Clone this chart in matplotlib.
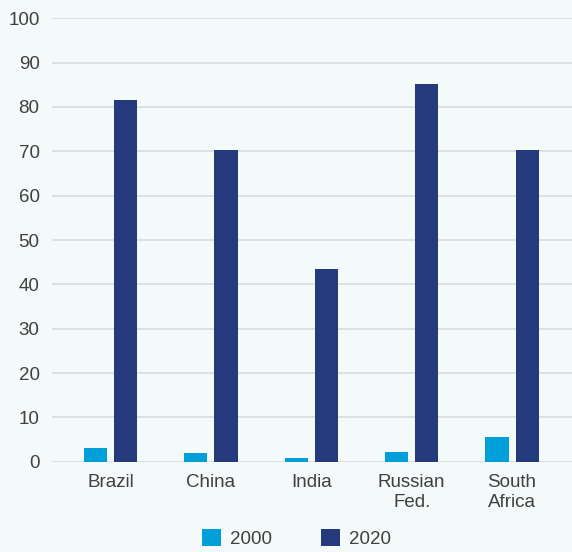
import numpy as np
import matplotlib.pyplot as plt

countries = ["Brazil", "China", "India", "Russian\nFed.", "South\nAfrica"]
years = ["2000", "2020"]
vals_2000 = [3.1, 2.0, 0.8, 2.2, 5.6]
vals_2020 = [81.6, 70.4, 43.5, 85.2, 70.3]

bg = "#f4f9fa"
c2000 = "#009fda"
c2020 = "#243a7c"
grid_c = "#d9dcdf"
txt = "#404040"

plt.rcParams['font.family'] = ['Liberation Sans', 'DejaVu Sans']

fig = plt.figure(figsize=(5.72, 5.52), dpi=100, facecolor=bg)
ax = fig.add_axes([0.091, 0.1636, 0.909, 0.8032])
ax.set_facecolor(bg)

x = np.arange(len(countries))
w = 0.23
ax.bar(x - 0.15, vals_2000, w, color=c2000, label=years[0], zorder=3)
ax.bar(x + 0.15, vals_2020, w, color=c2020, label=years[1], zorder=3)

ax.set_ylim(0, 100)
ax.set_xlim(-0.583, 4.597)
ax.set_yticks(range(0, 101, 10))
ax.set_xticks(x)
ax.set_xticklabels(countries, linespacing=1.25)
ax.yaxis.grid(True, color=grid_c, linewidth=1.2, zorder=0)
for s in ax.spines.values():
    s.set_visible(False)
ax.tick_params(axis='both', length=0, labelsize=13.5, colors=txt)
ax.tick_params(axis='y', pad=9)
ax.tick_params(axis='x', pad=9)
for t in ax.get_xticklabels():
    t.set_multialignment('center')

ax.legend(loc='center', bbox_to_anchor=(0.519, 0.0245), bbox_transform=fig.transFigure,
          ncol=2, frameon=False, fontsize=13.5, handlelength=1.0, handleheight=1.0,
          columnspacing=2.6, handletextpad=0.5, labelcolor=txt, borderpad=0)

fig.savefig("out.png", dpi=100, facecolor=bg)
